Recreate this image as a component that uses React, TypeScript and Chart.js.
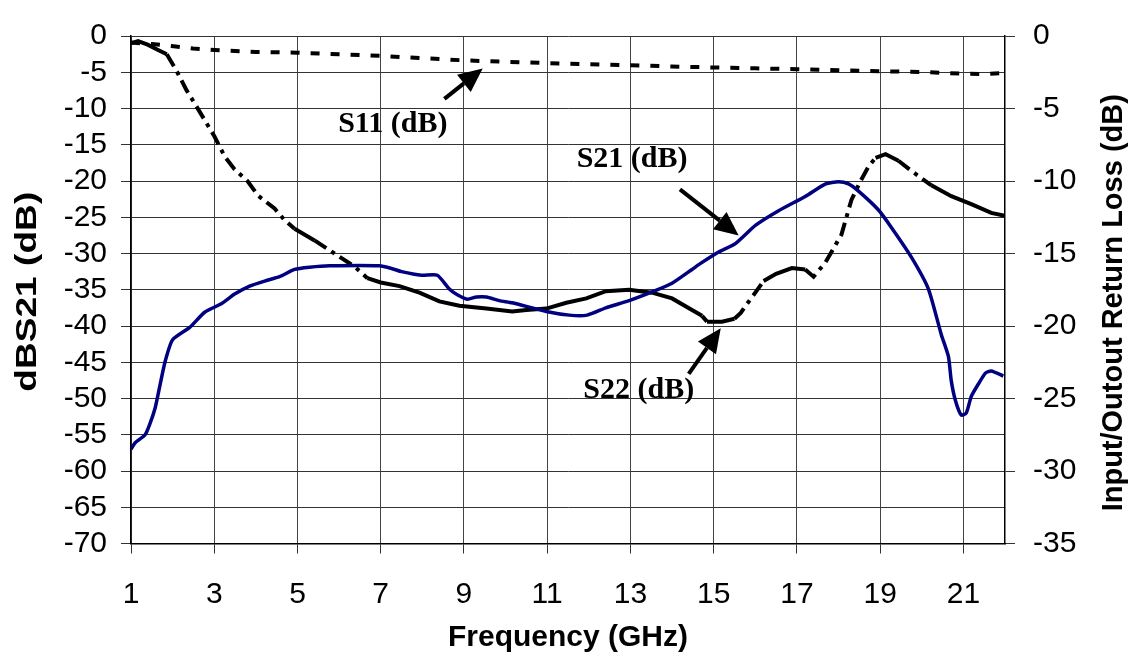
import React, { useEffect, useRef } from 'react';
import { Chart, registerables } from 'chart.js';

Chart.register(...registerables);

// ---------- data ----------
const X_TICKS = [1, 3, 5, 7, 9, 11, 13, 15, 17, 19, 21];

const S21_FREQ = [1.0, 1.1, 1.34, 1.46, 1.58, 1.67, 1.82, 2.0, 2.41, 2.77, 3.18, 3.49, 3.85, 4.21, 4.57, 4.93, 5.29, 5.77, 6.97, 7.28, 7.5, 7.98, 8.36, 8.65, 8.84, 9.08, 9.3, 9.54, 9.85, 10.16, 10.98, 11.53, 11.96, 12.41, 12.97, 13.52, 14.0, 14.48, 14.65, 15.12, 15.53, 16.01, 16.56, 17.21, 17.69, 18.0, 18.24, 18.48, 18.96, 19.27, 19.75, 20.16, 20.47, 20.64, 20.71, 20.81, 20.95, 21.07, 21.19, 21.36, 21.53, 21.67, 21.96];
const S21_DB = [-57.0, -56.1, -55.0, -53.4, -51.3, -48.9, -44.9, -41.9, -40.2, -38.1, -36.9, -35.6, -34.5, -33.8, -33.2, -32.2, -31.9, -31.7, -31.7, -32.1, -32.5, -33.0, -33.0, -34.9, -35.7, -36.3, -36.0, -36.0, -36.5, -36.8, -38.0, -38.5, -38.5, -37.5, -36.5, -35.3, -34.1, -32.2, -31.5, -29.8, -28.6, -26.1, -24.1, -22.1, -20.4, -20.1, -20.4, -21.4, -24.0, -26.4, -30.5, -34.9, -41.2, -44.2, -47.6, -50.3, -52.3, -52.0, -49.7, -48.0, -46.5, -46.2, -46.9];

const S22_FREQ = [1.0, 1.17, 1.4, 1.65, 1.86, 2.1, 2.34, 2.53, 2.77, 3.0, 3.25, 3.49, 3.8, 4.05, 4.45, 4.69, 4.93, 5.41, 5.89, 6.37, 6.68, 7.0, 7.45, 7.93, 8.41, 8.89, 9.54, 10.16, 10.5, 10.98, 11.46, 11.94, 12.41, 12.97, 13.52, 14.0, 14.48, 14.72, 14.84, 15.2, 15.5, 15.65, 15.77, 16.0, 16.2, 16.5, 16.88, 17.2, 17.4, 17.69, 17.83, 18.07, 18.19, 18.31, 18.53, 18.72, 18.89, 19.13, 19.44, 19.75, 20.23, 20.71, 21.19, 21.67, 22.0];
const S22_DB = [-0.5, -0.36, -0.6, -0.96, -1.26, -2.43, -3.77, -4.65, -5.8, -6.9, -8.3, -9.2, -10.0, -11.0, -11.9, -12.7, -13.3, -14.1, -15.0, -15.9, -16.7, -17.0, -17.25, -17.7, -18.3, -18.6, -18.8, -19.0, -18.9, -18.8, -18.4, -18.1, -17.6, -17.5, -17.7, -18.1, -18.9, -19.3, -19.7, -19.7, -19.5, -19.1, -18.6, -17.7, -16.9, -16.4, -16.0, -16.1, -16.6, -15.6, -14.9, -13.7, -12.5, -11.3, -10.0, -9.0, -8.4, -8.15, -8.6, -9.3, -10.3, -11.05, -11.6, -12.2, -12.4];

const S11_FREQ = [1.0, 1.5, 1.97, 2.49, 3.0, 4.0, 5.0, 6.0, 7.0, 8.0, 9.0, 10.0, 11.0, 12.0, 13.0, 14.0, 15.0, 16.0, 17.0, 18.0, 19.0, 20.0, 21.0, 21.5, 22.0];
const S11_DB = [-0.45, -0.55, -0.69, -0.86, -0.96, -1.1, -1.15, -1.26, -1.37, -1.53, -1.68, -1.78, -1.87, -1.95, -2.02, -2.1, -2.17, -2.23, -2.29, -2.36, -2.43, -2.48, -2.6, -2.62, -2.55];

// annotation labels (data units on the left axis)
const LABEL_TEXT = ['S11 (dB)', 'S21 (dB)', 'S22 (dB)'];
const LABEL_F = [7.29, 13.04, 13.2];
const LABEL_V = [-12.13, -16.98, -48.9];
const ARROW_TAIL_F = [8.53, 14.19, 14.4];
const ARROW_TAIL_V = [-8.67, -21.16, -46.6];
const ARROW_TIP_F = [9.45, 15.6, 15.17];
const ARROW_TIP_V = [-4.48, -27.5, -40.3];

const LEFT_TITLE = 'dBS21 (dB)';
const RIGHT_TITLE = 'Input/Outout Return Loss (dB)';

const pts = (xs: number[], ys: number[]) => xs.map((x, i) => ({ x, y: ys[i] }));

const annotationPlugin = {
  id: 'annot',
  afterDatasetsDraw(chart: any) {
    const { ctx, scales } = chart;
    const xs = scales.x;
    const ys = scales.y;
    ctx.save();
    ctx.fillStyle = '#000';
    ctx.strokeStyle = '#000';
    ctx.font = 'bold 30px "Liberation Serif", "Times New Roman", serif';
    ctx.textAlign = 'center';
    ctx.textBaseline = 'middle';
    for (let i = 0; i < LABEL_TEXT.length; i++) {
      ctx.fillText(LABEL_TEXT[i], xs.getPixelForValue(LABEL_F[i]), ys.getPixelForValue(LABEL_V[i]));
      const x0 = xs.getPixelForValue(ARROW_TAIL_F[i]);
      const y0 = ys.getPixelForValue(ARROW_TAIL_V[i]);
      const x1 = xs.getPixelForValue(ARROW_TIP_F[i]);
      const y1 = ys.getPixelForValue(ARROW_TIP_V[i]);
      const ang = Math.atan2(y1 - y0, x1 - x0);
      const headLen = 24;
      const headW = 11;
      const bx = x1 - headLen * Math.cos(ang);
      const by = y1 - headLen * Math.sin(ang);
      ctx.lineWidth = 4;
      ctx.beginPath();
      ctx.moveTo(x0, y0);
      ctx.lineTo(bx, by);
      ctx.stroke();
      ctx.beginPath();
      ctx.moveTo(x1, y1);
      ctx.lineTo(bx + headW * Math.sin(ang), by - headW * Math.cos(ang));
      ctx.lineTo(bx - headW * Math.sin(ang), by + headW * Math.cos(ang));
      ctx.closePath();
      ctx.fill();
    }
    ctx.restore();
  },
  afterDraw(chart: any) {
    const { ctx, chartArea } = chart;
    const mid = (chartArea.top + chartArea.bottom) / 2;
    ctx.save();
    ctx.fillStyle = '#000';
    ctx.textAlign = 'center';
    ctx.textBaseline = 'middle';
    // right title (reads bottom-to-top)
    ctx.font = 'bold 29px "Liberation Sans", Arial, sans-serif';
    ctx.save();
    ctx.translate(chart.width - 19, mid + 13);
    ctx.rotate(-Math.PI / 2);
    ctx.fillText(RIGHT_TITLE, 0, 0);
    ctx.restore();
    // left title (stretched along its reading direction)
    ctx.font = 'bold 30px "Liberation Sans", Arial, sans-serif';
    const w = ctx.measureText(LEFT_TITLE).width;
    ctx.save();
    ctx.translate(28, mid + 2);
    ctx.rotate(-Math.PI / 2);
    ctx.scale(200 / w, 1);
    ctx.fillText(LEFT_TITLE, 0, 0);
    ctx.restore();
    ctx.restore();
  },
};

export default function App() {
  const ref = useRef<HTMLCanvasElement | null>(null);
  useEffect(() => {
    if (!ref.current) return;
    Chart.defaults.font.family = '"Liberation Sans", Arial, sans-serif';
    Chart.defaults.color = '#000';
    const tickFont = { size: 30 };
    const chart = new Chart(ref.current, {
      type: 'line',
      data: {
        datasets: [
          {
            label: 'S21 (dB)',
            data: pts(S21_FREQ, S21_DB),
            yAxisID: 'y',
            borderColor: '#000080',
            borderWidth: 3.5,
            pointRadius: 0,
            tension: 0.2,
            fill: false,
          },
          {
            label: 'S22 (dB)',
            data: pts(S22_FREQ, S22_DB),
            yAxisID: 'y2',
            borderColor: '#000',
            borderWidth: 4,
            pointRadius: 0,
            tension: 0,
            fill: false,
            segment: {
              borderDash: (c: any) => {
                const dx = Math.abs(c.p1.x - c.p0.x);
                const dy = Math.abs(c.p1.y - c.p0.y);
                return dy > dx * 0.6 ? [14, 6, 4, 6] : undefined;
              },
            },
          },
          {
            label: 'S11 (dB)',
            data: pts(S11_FREQ, S11_DB),
            yAxisID: 'y2',
            borderColor: '#000',
            borderWidth: 4,
            borderDash: [9, 11],
            borderCapStyle: 'butt',
            pointRadius: 0,
            tension: 0,
            fill: false,
          },
        ],
      },
      options: {
        responsive: false,
        animation: false,
        devicePixelRatio: 1,
        layout: { padding: { left: 0, right: 0, top: 24, bottom: 0 } },
        plugins: { legend: { display: false }, tooltip: { enabled: false } },
        scales: {
          x: {
            type: 'linear',
            min: 1,
            max: 22,
            afterBuildTicks: (axis: any) => {
              axis.ticks = X_TICKS.map((v) => ({ value: v }));
            },
            afterFit: (scale: any) => {
              scale.height = 118.5;
            },
            ticks: { font: tickFont, padding: 23, maxRotation: 0, autoSkip: false },
            grid: { color: '#444', lineWidth: 1, tickLength: 10, tickColor: '#333' },
            border: { display: true, color: '#000', width: 1.5 },
            title: {
              display: true,
              text: 'Frequency (GHz)',
              font: { size: 30, weight: 'bold' },
              padding: { top: 0, bottom: 6 },
            },
          },
          y: {
            type: 'linear',
            position: 'left',
            min: -70,
            max: 0,
            afterFit: (scale: any) => {
              scale.width = 131;
            },
            ticks: { stepSize: 5, font: tickFont, padding: 14, autoSkip: false },
            grid: { color: '#333', lineWidth: 1, tickLength: 10, tickColor: '#333' },
            border: { display: true, color: '#000', width: 1.5 },
          },
          y2: {
            type: 'linear',
            position: 'right',
            min: -35,
            max: 0,
            afterFit: (scale: any) => {
              scale.width = 128;
            },
            ticks: { stepSize: 5, font: tickFont, padding: 18, autoSkip: false },
            grid: { drawOnChartArea: false, tickLength: 10, tickColor: '#333' },
            border: { display: true, color: '#000', width: 1.5 },
          },
        },
      },
      plugins: [annotationPlugin],
    } as any);
    return () => chart.destroy();
  }, []);
  return (
    <div style={{ position: 'absolute', left: 0, top: 0, width: 1133, height: 662 }}>
      <canvas ref={ref} width={1133} height={662} />
    </div>
  );
}
